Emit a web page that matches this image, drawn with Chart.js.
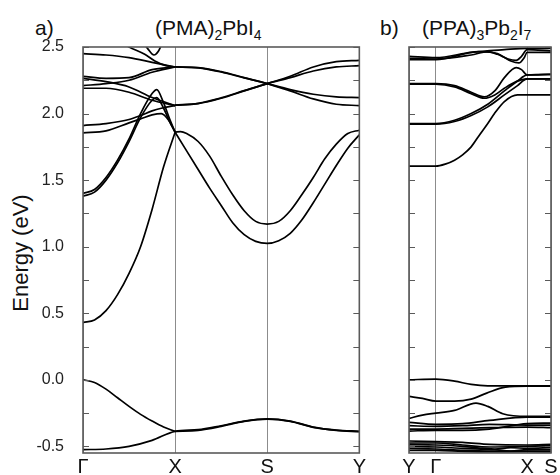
<!DOCTYPE html>
<html>
<head>
<meta charset="utf-8">
<script src="https://cdn.jsdelivr.net/npm/chart.js@4.4.1/dist/chart.umd.min.js"></script>
<style>
  body { margin:0; width:560px; height:475px; background:#fff; position:relative; overflow:hidden;
         font-family:"Liberation Sans", Arial, sans-serif; color:#111; }
  #wrapA { position:absolute; left:0; top:0; }
  #wrapB { position:absolute; left:380px; top:0; }
  .lbl { position:absolute; font-size:21px; line-height:22px; white-space:nowrap; }
  .lbl sub { font-size:14px; vertical-align:-5px; line-height:0; }
  #ytitle { position:absolute; left:21px; top:253px; transform:translate(-50%,-50%) rotate(-90deg);
            font-size:22px; white-space:nowrap; }
</style>
</head>
<body>
<div class="lbl" style="left:35px;top:17px">a)</div>
<div class="lbl" style="left:155px;top:17px">(PMA)<sub>2</sub>PbI<sub>4</sub></div>
<div class="lbl" style="left:380px;top:17px">b)</div>
<div class="lbl" style="left:422px;top:17px">(PPA)<sub>3</sub>Pb<sub>2</sub>I<sub>7</sub></div>
<div id="ytitle">Energy (eV)</div>
<div id="wrapA"><canvas id="chartA" width="368" height="475"></canvas></div>
<div id="wrapB"><canvas id="chartB" width="180" height="475"></canvas></div>
<script>
// =========================
// Data: k-path labels
// =========================
const kLabelsA = ["Γ", "X", "S", "Y"];
const kPosA = [0, 1, 2, 3];
const kLabelsB = ["Y", "Γ", "X", "S"];
const kPosB = [0, 1, 4.41, 5.3];

// =========================
// (PMA)2PbI4 bands, [k, E]
// =========================
const aVB1 = [[0,0],[0.125,-0.02],[0.25,-0.07],[0.375,-0.135],[0.5,-0.2],[0.625,-0.26],[0.75,-0.31],[0.875,-0.355],[1,-0.387]];
const aVB2 = [[0,-0.525],[0.25,-0.52],[0.5,-0.5],[0.75,-0.455],[1,-0.387],[1.25,-0.375],[1.5,-0.345],[1.75,-0.31],[2,-0.293],[2.25,-0.31],[2.5,-0.355],[2.75,-0.378],[3,-0.387]];
const aVB3 = [[1,-0.387],[1.25,-0.38],[1.5,-0.35],[1.75,-0.312],[2,-0.295],[2.25,-0.312],[2.5,-0.357],[2.75,-0.38],[3,-0.39]];
const aCB1 = [[0,0.43],[0.125,0.45],[0.25,0.52],[0.375,0.64],[0.5,0.8],[0.625,1.0],[0.75,1.28],[0.875,1.6],[1,1.86]];
const aCBu = [[1,1.86],[1.06,1.865],[1.125,1.85],[1.25,1.79],[1.375,1.68],[1.5,1.53],[1.625,1.39],[1.75,1.27],[1.875,1.19],[2,1.17],[2.125,1.19],[2.25,1.27],[2.375,1.39],[2.5,1.52],[2.625,1.66],[2.75,1.77],[2.875,1.85],[3,1.875]];
const aCBl = [[1,1.86],[1.125,1.72],[1.25,1.58],[1.375,1.44],[1.5,1.31],[1.625,1.18],[1.75,1.09],[1.875,1.04],[2,1.025],[2.125,1.045],[2.25,1.1],[2.375,1.2],[2.5,1.33],[2.625,1.47],[2.75,1.61],[2.875,1.74],[3,1.84]];
const aC1 = [[0,1.4],[0.125,1.43],[0.25,1.52],[0.375,1.65],[0.5,1.81],[0.625,2.0],[0.75,2.15],[0.8,2.18],[0.875,2.08],[0.94,1.96],[1,1.86]];
const aC2 = [[0,1.38],[0.125,1.41],[0.25,1.5],[0.375,1.63],[0.5,1.79],[0.625,1.97],[0.75,2.1],[0.8,2.12],[0.875,2.04],[0.94,1.94],[1,1.86]];
const aD1 = [[0,1.91],[0.25,1.925],[0.5,1.955],[0.625,1.985],[0.75,2.02],[0.85,2.04],[1,2.06]];
const aD2 = [[0,1.855],[0.25,1.87],[0.5,1.93],[0.625,1.96],[0.75,1.99],[0.85,2.0],[0.93,1.95],[1,1.86]];
const aA1 = [[0,2.28],[0.25,2.265],[0.5,2.27],[0.75,2.33],[1,2.35]];
const aA2 = [[0,2.265],[0.25,2.24],[0.5,2.2],[0.75,2.12],[1,2.06]];
const aB1 = [[0,2.21],[0.25,2.225],[0.5,2.25],[0.75,2.31],[1,2.35]];
const aB2 = [[0,2.19],[0.25,2.19],[0.5,2.16],[0.75,2.1],[1,2.06]];
const aT0 = [[0,2.45],[0.25,2.44],[0.5,2.42],[0.75,2.385],[1,2.35]];
const aE = [[0.45,2.52],[0.5,2.5],[0.67,2.445],[0.78,2.395],[0.9,2.36],[1,2.35]];
const aF = [[0.62,2.56],[0.7,2.49],[0.77,2.44],[0.82,2.47],[0.86,2.53]];
const aU1 = [[1,2.35],[1.25,2.345],[1.5,2.315],[1.75,2.27],[2,2.225],[2.25,2.18],[2.5,2.145],[2.75,2.125],[3,2.12]];
const aU2 = [[1,2.35],[1.25,2.343],[1.5,2.312],[1.75,2.268],[2,2.225],[2.25,2.17],[2.5,2.11],[2.75,2.07],[3,2.06]];
const aL1 = [[1,2.063],[1.25,2.075],[1.5,2.115],[1.75,2.17],[2,2.225],[2.25,2.28],[2.5,2.35],[2.75,2.39],[3,2.4]];
const aL2 = [[1,2.063],[1.25,2.077],[1.5,2.118],[1.75,2.172],[2,2.225],[2.25,2.27],[2.5,2.32],[2.75,2.35],[3,2.36]];

// =========================
// (PPA)3Pb2I7 bands, [k, E]
// =========================
const bP1 = [[0,2.43],[1,2.42],[2.32,2.46],[3.56,2.48],[4.41,2.49],[5.3,2.49]];
const bP2 = [[0,2.415],[1,2.41],[2.32,2.44],[2.94,2.465],[3.3,2.445],[3.7,2.41],[4.0,2.4],[4.2,2.43],[4.41,2.48],[5.3,2.47]];
const bP3 = [[0,2.405],[1,2.405],[2.6,2.465],[3.3,2.45],[3.8,2.395],[4.1,2.38],[4.3,2.42],[4.41,2.46],[5.3,2.46]];
const bQ1 = [[0,2.225],[1,2.225],[1.7,2.21],[2.32,2.16],[2.81,2.125],[3.2,2.17],[3.56,2.27],[4.0,2.345],[4.2,2.33],[4.41,2.29],[5.3,2.295]];
const bQ2 = [[0,2.22],[1,2.22],[1.7,2.2],[2.32,2.15],[2.81,2.115],[3.2,2.14],[3.56,2.19],[4.0,2.24],[4.41,2.26],[5.3,2.26]];
const bR1 = [[0,1.925],[1,1.925],[1.7,1.95],[2.32,2.0],[2.94,2.07],[3.56,2.17],[4.05,2.245],[4.41,2.29],[5.3,2.295]];
const bR2 = [[0,1.92],[1,1.92],[1.7,1.94],[2.32,1.985],[2.94,2.05],[3.56,2.14],[4.05,2.21],[4.41,2.26],[5.3,2.26]];
const bS1 = [[0,1.605],[1,1.605],[1.35,1.62],[1.7,1.65],[2.0,1.69],[2.32,1.75],[2.6,1.83],[2.94,1.925],[3.19,2.0],[3.56,2.09],[4.05,2.14],[4.41,2.14],[5.3,2.14]];
const bV1 = [[0,0],[1,0.005],[1.7,-0.01],[2.32,-0.035],[2.94,-0.045],[4.41,-0.045],[5.3,-0.045]];
const bV2 = [[0,-0.125],[0.5,-0.14],[1,-0.16],[1.7,-0.16],[2.32,-0.145],[2.9,-0.1],[3.6,-0.055],[4.41,-0.048],[5.3,-0.048]];
const bV3 = [[0,-0.29],[0.5,-0.265],[1,-0.25],[1.7,-0.23],[2.5,-0.175],[2.94,-0.2],[3.5,-0.255],[4.41,-0.275],[5.3,-0.275]];
const bV4 = [[0,-0.32],[1,-0.335],[2,-0.33],[3,-0.305],[4.41,-0.28],[5.3,-0.28]];
const bV5 = [[0,-0.345],[1,-0.35],[2,-0.345],[3,-0.335],[4.41,-0.34],[5.3,-0.34]];
const bV6 = [[0,-0.37],[1,-0.37],[2,-0.365],[3,-0.36],[4.41,-0.355],[5.3,-0.36]];
const bV7 = [[0,-0.385],[1,-0.38],[2,-0.38],[3,-0.37],[4.41,-0.33],[5.3,-0.325]];
const bW1 = [[0,-0.46],[1,-0.465],[2,-0.47],[3,-0.485],[4.41,-0.49],[5.3,-0.485]];
const bW2 = [[0,-0.475],[1,-0.475],[2,-0.49],[3,-0.505],[4.41,-0.5],[5.3,-0.495]];
const bW3 = [[0,-0.485],[1,-0.49],[2,-0.5],[3.2,-0.52],[3.8,-0.51],[4.41,-0.515],[5.3,-0.51]];
const bW4 = [[0,-0.5],[1,-0.505],[2,-0.515],[3.2,-0.525],[3.8,-0.535],[4.41,-0.525],[5.3,-0.525]];
const bW5 = [[0,-0.515],[1,-0.52],[2,-0.53],[3,-0.535],[4.41,-0.535],[5.3,-0.535]];
const bW6 = [[0,-0.53],[1,-0.53],[2,-0.538],[3,-0.542],[4.41,-0.54],[5.3,-0.542]];

const bandsA = [aVB1, aVB2, aVB3, aCB1, aCBu, aCBl, aC1, aC2, aD1, aD2, aA1, aA2, aB1, aB2, aT0, aE, aF, aU1, aU2, aL1, aL2];
const bandsB = [bP1, bP2, bP3, bQ1, bQ2, bR1, bR2, bS1, bV1, bV2, bV3, bV4, bV5, bV6, bV7, bW1, bW2, bW3, bW4, bW5, bW6];

const yMin = -0.55, yMax = 2.5, yStep = 0.25;

// =========================
// Frame + inward ticks
// =========================
const framePlugin = {
  id: "frame",
  afterDraw(chart) {
    const { ctx, chartArea: a, scales: { y } } = chart;
    ctx.save();
    ctx.strokeStyle = "#5a5a5a";
    ctx.lineWidth = 1;
    y.ticks.forEach((t) => {
      const py = Math.round(y.getPixelForValue(t.value)) + 0.5;
      ctx.beginPath();
      ctx.moveTo(a.left, py); ctx.lineTo(a.left + 6, py);
      ctx.moveTo(a.right, py); ctx.lineTo(a.right - 6, py);
      ctx.stroke();
    });
    ctx.lineWidth = 1.6;
    ctx.strokeRect(a.left, a.top, a.right - a.left, a.bottom - a.top);
    ctx.restore();
  },
};

function makeDatasets(bands) {
  return bands.map((b) => ({
    data: b.map(([x, y]) => ({ x, y })),
    borderColor: "#000",
    borderWidth: 1.7,
    pointRadius: 0,
    fill: false,
    cubicInterpolationMode: "monotone",
  }));
}

function makeChart(id, bands, kPos, kLabels, yWidth, padRight, showYLabels) {
  return new Chart(document.getElementById(id), {
    type: "line",
    data: { datasets: makeDatasets(bands) },
    options: {
      responsive: false,
      animation: false,
      layout: { padding: { top: 47, right: padRight, left: 0, bottom: 0 } },
      plugins: { legend: { display: false }, tooltip: { enabled: false } },
      scales: {
        x: {
          type: "linear",
          min: kPos[0],
          max: kPos[kPos.length - 1],
          afterBuildTicks: (s) => { s.ticks = kPos.map((v) => ({ value: v })); },
          afterFit: (s) => { s.height = 22; },
          ticks: {
            autoSkip: false,
            maxRotation: 0,
            padding: 2,
            color: "#111",
            font: { family: "Liberation Sans", size: 20 },
            callback: (v, i) => kLabels[i],
          },
          grid: { color: "#8c8c8c", lineWidth: 1, drawTicks: false },
          border: { display: false },
        },
        y: {
          min: yMin,
          max: yMax,
          afterFit: (s) => { s.width = yWidth; },
          ticks: {
            display: showYLabels,
            stepSize: yStep,
            includeBounds: false,
            autoSkip: false,
            padding: 11,
            color: "#222",
            font: { family: "Liberation Sans", size: 16 },
            callback: (v) => (Math.abs(v * 2 - Math.round(v * 2)) < 1e-6 ? v.toFixed(1) : ""),
          },
          grid: { display: false },
          border: { display: false },
        },
      },
    },
    plugins: [framePlugin],
  });
}

makeChart("chartA", bandsA, kPosA, kLabelsA, 83, 2, true);
makeChart("chartB", bandsB, kPosB, kLabelsB, 29, 9, false);
</script>
</body>
</html>
